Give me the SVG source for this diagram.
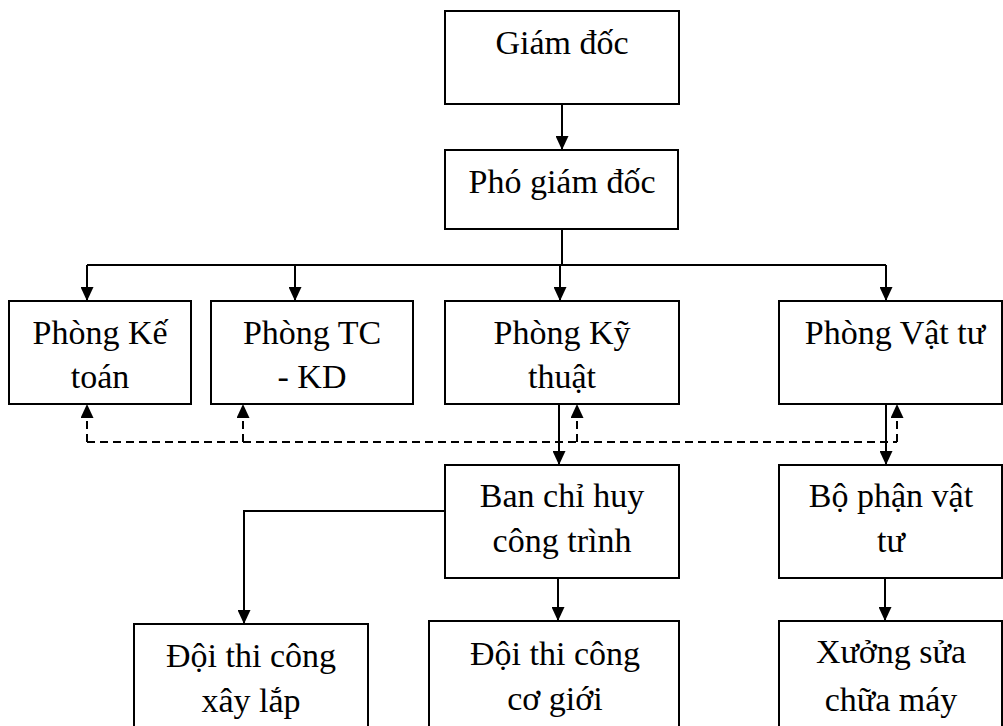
<svg xmlns="http://www.w3.org/2000/svg" width="1003" height="726" viewBox="0 0 1003 726">
<style>
.box{fill:#fff;stroke:#000;stroke-width:2}
.t{font-family:"Liberation Serif","Times New Roman",serif;font-size:34px;fill:#000;text-anchor:middle}
.ln{fill:none;stroke:#000;stroke-width:2}
.ds{fill:none;stroke:#000;stroke-width:2;stroke-dasharray:8,5}
</style>
<defs>
<marker id="ah" viewBox="0 0 14 13" refX="14" refY="6.5" markerWidth="14" markerHeight="13" markerUnits="userSpaceOnUse" orient="auto">
<path d="M0,0 L14,6.5 L0,13 Z" fill="#000"/>
</marker>
</defs>
<rect width="1003" height="726" fill="#fff"/>
<g id="connectors">
<path class="ln" d="M562,104 V150" marker-end="url(#ah)"/>
<path class="ln" d="M562,229 V265"/>
<path class="ln" d="M87,265 H886"/>
<path class="ln" d="M87,265 V301" marker-end="url(#ah)"/>
<path class="ln" d="M295,265 V301" marker-end="url(#ah)"/>
<path class="ln" d="M560,265 V301" marker-end="url(#ah)"/>
<path class="ln" d="M886,265 V301" marker-end="url(#ah)"/>
<path class="ds" d="M87,442 H897"/>
<path class="ds" d="M87,442 V404" marker-end="url(#ah)"/>
<path class="ds" d="M243,442 V404" marker-end="url(#ah)"/>
<path class="ds" d="M577,442 V404" marker-end="url(#ah)"/>
<path class="ds" d="M897,442 V404" marker-end="url(#ah)"/>
<path class="ln" d="M559,404 V465" marker-end="url(#ah)"/>
<path class="ln" d="M886,404 V465" marker-end="url(#ah)"/>
<path class="ln" d="M445,511 H244 V624" marker-end="url(#ah)"/>
<path class="ln" d="M558,578 V621" marker-end="url(#ah)"/>
<path class="ln" d="M885,578 V621" marker-end="url(#ah)"/>
</g>
<g id="giam-doc"><rect class="box" x="445" y="11" width="234" height="93"/><text class="t" x="562" y="54">Giám đốc</text></g>
<g id="pho-giam-doc"><rect class="box" x="445" y="150" width="233" height="79"/><text class="t" x="562" y="193">Phó giám đốc</text></g>
<g id="phong-ke-toan"><rect class="box" x="9" y="301" width="182" height="103"/><text class="t" x="100" y="344">Phòng Kế</text><text class="t" x="100" y="388">toán</text></g>
<g id="phong-tc-kd"><rect class="box" x="211" y="301" width="202" height="103"/><text class="t" x="312" y="344">Phòng TC</text><text class="t" x="312" y="388">- KD</text></g>
<g id="phong-ky-thuat"><rect class="box" x="445" y="301" width="234" height="103"/><text class="t" x="562" y="344">Phòng Kỹ</text><text class="t" x="562" y="388">thuật</text></g>
<g id="phong-vat-tu"><rect class="box" x="779" y="301" width="223" height="103"/><text class="t" x="895" y="344">Phòng Vật tư</text></g>
<g id="ban-chi-huy"><rect class="box" x="445" y="465" width="234" height="113"/><text class="t" x="562" y="507">Ban chỉ huy</text><text class="t" x="562" y="552">công trình</text></g>
<g id="bo-phan-vat-tu"><rect class="box" x="779" y="465" width="223" height="113"/><text class="t" x="891" y="507">Bộ phận vật</text><text class="t" x="891" y="552">tư</text></g>
<g id="doi-xay-lap"><rect class="box" x="134" y="624" width="234" height="120"/><text class="t" x="251" y="667">Đội thi công</text><text class="t" x="251" y="712">xây lắp</text></g>
<g id="doi-co-gioi"><rect class="box" x="429" y="621" width="250" height="120"/><text class="t" x="555" y="665">Đội thi công</text><text class="t" x="555" y="710">cơ giới</text></g>
<g id="xuong-sua-chua"><rect class="box" x="779" y="621" width="223" height="120"/><text class="t" x="891" y="663">Xưởng sửa</text><text class="t" x="891" y="711">chữa máy</text></g>
</svg>
